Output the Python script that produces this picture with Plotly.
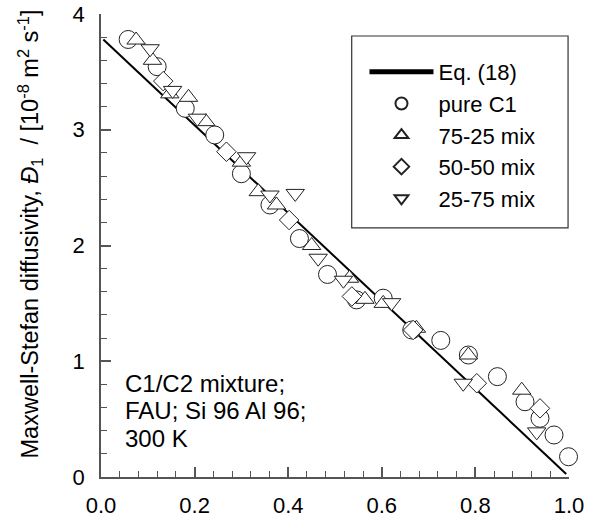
import plotly.graph_objects as go

# Eq. (18) line
eq_x = [0.005, 0.994]
eq_y = [3.78, 0.026]

# pure C1
c1_x = [0.058, 0.12, 0.18, 0.243, 0.30, 0.361, 0.424, 0.484, 0.546, 0.603, 0.664, 0.726, 0.785, 0.847, 0.906, 0.938, 0.968, 0.999]
c1_y = [3.78, 3.545, 3.185, 2.955, 2.62, 2.35, 2.06, 1.75, 1.53, 1.545, 1.27, 1.18, 1.054, 0.867, 0.65, 0.507, 0.363, 0.175]

# 75-25 mix
m75_x = [0.075, 0.11, 0.147, 0.187, 0.224, 0.30, 0.336, 0.375, 0.45, 0.531, 0.564, 0.603, 0.674, 0.785, 0.899]
m75_y = [3.775, 3.60, 3.31, 3.28, 3.07, 2.72, 2.465, 2.35, 2.0, 1.717, 1.535, 1.50, 1.285, 1.054, 0.75]

# 50-50 mix
m50_x = [0.133, 0.268, 0.402, 0.536, 0.667, 0.803, 0.938]
m50_y = [3.42, 2.81, 2.22, 1.56, 1.27, 0.81, 0.593]

# 25-75 mix
m25_x = [0.105, 0.153, 0.206, 0.311, 0.361, 0.415, 0.464, 0.518, 0.621, 0.774, 0.931]
m25_y = [3.70, 3.34, 3.10, 2.767, 2.436, 2.45, 1.89, 1.70, 1.506, 0.81, 0.39]

x_ticks = [0.0, 0.2, 0.4, 0.6, 0.8, 1.0]
x_ticktext = ["0.0", "0.2", "0.4", "0.6", "0.8", "1.0"]
y_ticks = [0, 1, 2, 3, 4]

note_lines = ["C1/C2 mixture;", "FAU; Si 96 Al 96;", "300 K"]
y_title = "Maxwell-Stefan diffusivity, <i>Đ</i><sub>1</sub>  / [10<sup>-8</sup> m<sup>2</sup> s<sup>-1</sup>]"

FONT = "Arial, Liberation Sans, sans-serif"

fig = go.Figure()
fig.add_trace(go.Scatter(x=eq_x, y=eq_y, mode="lines", name="Eq. (18)",
                         line=dict(color="black", width=2)))

def mk(symbol, size):
    return dict(symbol=symbol, size=size, color="white",
                line=dict(color="#222222", width=1))

fig.add_trace(go.Scatter(x=c1_x, y=c1_y, mode="markers", name="pure C1",
                         marker=mk("circle", 18), cliponaxis=False))
fig.add_trace(go.Scatter(x=m75_x, y=m75_y, mode="markers", name="75-25 mix",
                         marker=mk("triangle-up", 16), cliponaxis=False))
fig.add_trace(go.Scatter(x=m50_x, y=m50_y, mode="markers", name="50-50 mix",
                         marker=mk("diamond", 15), cliponaxis=False))
fig.add_trace(go.Scatter(x=m25_x, y=m25_y, mode="markers", name="25-75 mix",
                         marker=mk("triangle-down", 16), cliponaxis=False))

axis_common = dict(showgrid=False, zeroline=False, showline=True,
                   linecolor="#555555", linewidth=1.5, ticks="inside",
                   tickcolor="#555555", tickwidth=1.5, ticklen=10,
                   automargin=False, ticklabeloverflow="allow",
                   tickfont=dict(family=FONT, size=22, color="black"))

fig.update_xaxes(range=[0, 1], tickvals=x_ticks, ticktext=x_ticktext,
                 minor=dict(dtick=0.04, ticks="inside", ticklen=6,
                            tickcolor="#555555", tickwidth=1.2),
                 ticklabelstandoff=8, **axis_common)
fig.update_yaxes(range=[0, 4], tickvals=y_ticks,
                 minor=dict(dtick=0.2, ticks="inside", ticklen=6,
                            tickcolor="#555555", tickwidth=1.2),
                 ticklabelstandoff=10, **axis_common)

# y-axis title (rotated text, centred as in the reference)
fig.add_annotation(xref="paper", yref="paper", x=-0.1517, y=0.5238,
                   xanchor="center", yanchor="middle", showarrow=False,
                   textangle=-90, text=y_title,
                   font=dict(family=FONT, size=23.5, color="black"))

fig.add_shape(type="rect", xref="paper", yref="paper",
              x0=0.5357, x1=0.998, y0=0.538, y1=0.9525,
              line=dict(color="#333333", width=1.2), fillcolor="rgba(0,0,0,0)")

for txt, yy in zip(note_lines, [0.203, 0.1447, 0.0842]):
    fig.add_annotation(xref="paper", yref="paper", x=0.047, y=yy,
                       xanchor="left", yanchor="middle", align="left", showarrow=False,
                       text=txt, font=dict(family=FONT, size=24, color="black"))

fig.update_layout(
    width=589, height=518,
    margin=dict(l=101, r=20, t=14, b=41),
    paper_bgcolor="white", plot_bgcolor="white",
    font=dict(family=FONT, size=22, color="black"),
    legend=dict(x=0.563, y=0.92, xanchor="left", yanchor="top",
                bgcolor="rgba(0,0,0,0)", borderwidth=0, itemwidth=64,
                font=dict(family=FONT, size=22, color="black"),
                itemsizing="constant", tracegroupgap=0),
)

# remove the browser's default 8px page margin so the figure fills the window
fig.write_html("out.html",
               config={"displayModeBar": False},
               post_script="document.body.style.margin='0';document.body.style.overflow='hidden';")
